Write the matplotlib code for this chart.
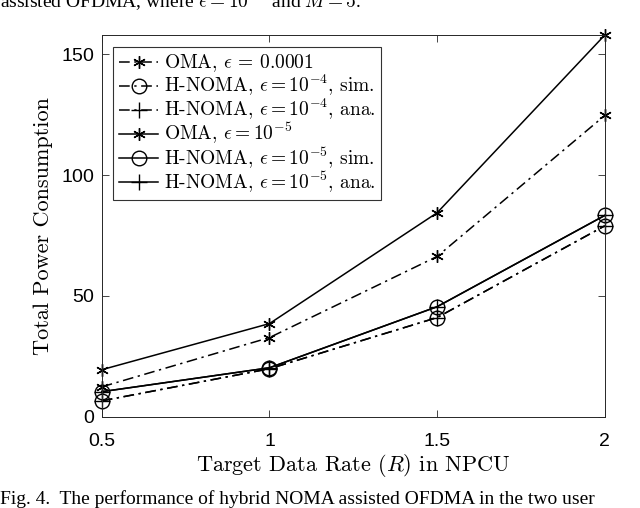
import numpy as np
import matplotlib
matplotlib.use("Agg")
import matplotlib.pyplot as plt

plt.rcParams["mathtext.fontset"] = "cm"
plt.rcParams["axes.formatter.use_mathtext"] = True

# ── Données ────────────────────────────────────────────────────────────────────
rate = [0.5, 1.0, 1.5, 2.0]

oma_4 = [12.3, 32.7, 66.3, 124.7]
noma_4_sim = [6.5, 19.8, 41.0, 79.0]
noma_4_ana = [6.5, 19.8, 41.0, 79.0]
oma_5 = [19.4, 38.5, 84.4, 158.0]
noma_5_sim = [10.3, 20.2, 45.5, 83.3]
noma_5_ana = [10.3, 20.2, 45.5, 83.3]

labels = [
    r"OMA, $\epsilon$ = 0.0001",
    r"H-NOMA, $\epsilon = 10^{-4}$, sim.",
    r"H-NOMA, $\epsilon = 10^{-4}$, ana.",
    r"OMA, $\epsilon = 10^{-5}$",
    r"H-NOMA, $\epsilon = 10^{-5}$, sim.",
    r"H-NOMA, $\epsilon = 10^{-5}$, ana.",
]
xticks = [0.5, 1, 1.5, 2]
yticks = [0, 50, 100, 150]

# ── Figure ─────────────────────────────────────────────────────────────────────
fig = plt.figure(figsize=(6.4, 5.08), dpi=100)
ax = fig.add_axes([0.159, 0.180, 0.786, 0.751])

DASHDOT = (0, (7, 3, 1.5, 3))
AST = (6, 2, 0)
series = [
    (oma_4, DASHDOT, AST, 9),
    (noma_4_sim, DASHDOT, "o", 10.5),
    (noma_4_ana, DASHDOT, "+", 11),
    (oma_5, "-", AST, 9),
    (noma_5_sim, "-", "o", 10.5),
    (noma_5_ana, "-", "+", 11),
]
for (vals, ls, mk, ms), lab in zip(series, labels):
    ax.plot(rate, vals, color="black", linestyle=ls, lw=1.1, marker=mk,
            ms=ms, mfc="none", mew=1.0, label=lab, clip_on=False)

ax.set_xlim(0.5, 2)
ax.set_ylim(0, 158)
ax.set_xticks(xticks)
ax.set_xticklabels(["0.5", "1", "1.5", "2"])
ax.set_yticks(yticks)
ax.tick_params(direction="in", top=True, right=True, length=5, width=0.6,
               color="#262626", labelsize=14)
ax.tick_params(axis="x", pad=12)
ax.tick_params(axis="y", pad=5)
for lab in ax.get_xticklabels() + ax.get_yticklabels():
    lab.set_family("Liberation Sans")
for sp in ax.spines.values():
    sp.set_color("#262626")
    sp.set_linewidth(0.7)

ax.set_xlabel(r"Target Data Rate ($R$) in NPCU", family="cmr10", fontsize=16,
              labelpad=1)
ax.set_ylabel("Total Power Consumption", family="cmr10", fontsize=16,
              labelpad=6)

leg = ax.legend(loc="upper left", prop={"family": "cmr10", "size": 14},
                frameon=True, fancybox=False, edgecolor="black",
                handlelength=2.0, handletextpad=0.3, labelspacing=-0.05,
                borderpad=0.3, borderaxespad=0.6)
leg.get_frame().set_linewidth(0.8)

# texte de la légende de l'article, coupé par le cadre
fig.text(0.0, 0.985, r"assisted OFDMA, where $\epsilon = 10^{-5}$ and $M = 5$.",
         family="Liberation Serif", fontsize=14, va="baseline", ha="left")
fig.text(0.0, 0.008, "Fig. 4.  The performance of hybrid NOMA assisted OFDMA in the two user",
         family="Liberation Serif", fontsize=14, va="baseline", ha="left")

fig.savefig("out.png", dpi=100)
